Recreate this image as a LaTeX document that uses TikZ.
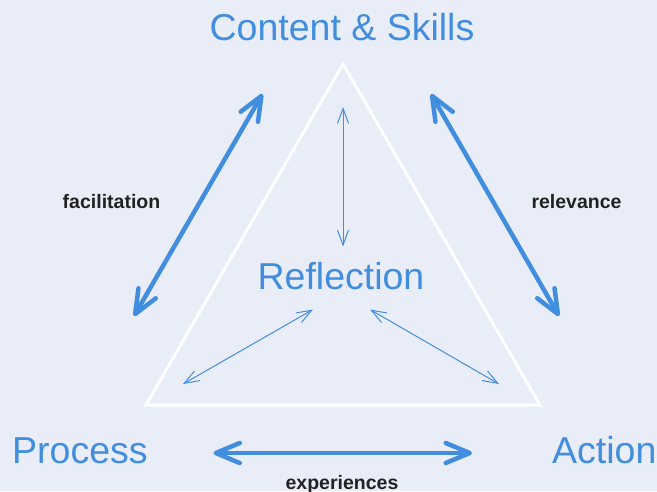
\documentclass[tikz,border=0pt]{standalone}
\usepackage{fontspec}
\setmainfont{Liberation Sans}
\usepackage{tikz}
\usetikzlibrary{arrows.meta, positioning}
\definecolor{skyblue}{RGB}{66,142,222}
\definecolor{paleback}{RGB}{233,237,248}
\definecolor{labelgray}{RGB}{34,34,34}
\tikzset{
    corner/.style={text=skyblue, font=\fontsize{37.5}{40}\selectfont, inner sep=0pt, anchor=base},
    tag/.style={text=labelgray, font=\bfseries\fontsize{19.5}{22}\selectfont, inner sep=0pt, anchor=base},
    bigarrow/.style={draw=skyblue, line width=4.5pt, line cap=round, <->, >={Straight Barb[length=24pt,width=20pt,round]}},
    thinarrow/.style={draw=skyblue, line width=1pt, <->, >={Straight Barb[length=15pt,width=11pt]}},
    frame/.style={draw=white, line width=3pt}
}

\begin{document}
\begin{tikzpicture}[x=1pt, y=-1pt]
            \useasboundingbox (0,0) rectangle (657,491);
            \fill[paleback] (0,0) rectangle (657,491);

            \node[corner] (content) at (342,40) {Content \& Skills};
            \node[corner] (reflection) at (341,289) {Reflection};
            \node[corner, anchor=base west] (process) at (12,463) {Process};
            \node[corner, anchor=base west] (action) at (552,463) {Action};

            \node[tag] (facilitation) at (111.5,208) {facilitation};
            \node[tag] (relevance) at (576.5,208) {relevance};
            \node[tag] (experiences) at (342,489) {experiences};

            \coordinate (apex) at (343,64);
            \coordinate (baseL) at (146,405);
            \coordinate (baseR) at (540,405);
            \draw[frame] (apex) -- (baseR) -- (baseL) -- cycle;

            \coordinate (facTop) at (262.5,94);
            \coordinate (facBot) at (134,316);
            \coordinate (relTop) at (431,94);
            \coordinate (relBot) at (559,316);
            \coordinate (expL) at (213.5,453);
            \coordinate (expR) at (472,453);
            \path[bigarrow] (facTop) -- (facBot);
            \path[bigarrow] (relTop) -- (relBot);
            \path[bigarrow] (expL) -- (expR);

            \coordinate (refTop) at (343,107);
            \coordinate (refUp) at (343,246.5);
            \coordinate (refL) at (313,309.5);
            \coordinate (refLfar) at (183,384);
            \coordinate (refR) at (370,309.5);
            \coordinate (refRfar) at (499,384);
            \path[thinarrow] (refTop) -- (refUp);
            \path[thinarrow] (refL) -- (refLfar);
            \path[thinarrow] (refR) -- (refRfar);
        \end{tikzpicture}
\end{document}
